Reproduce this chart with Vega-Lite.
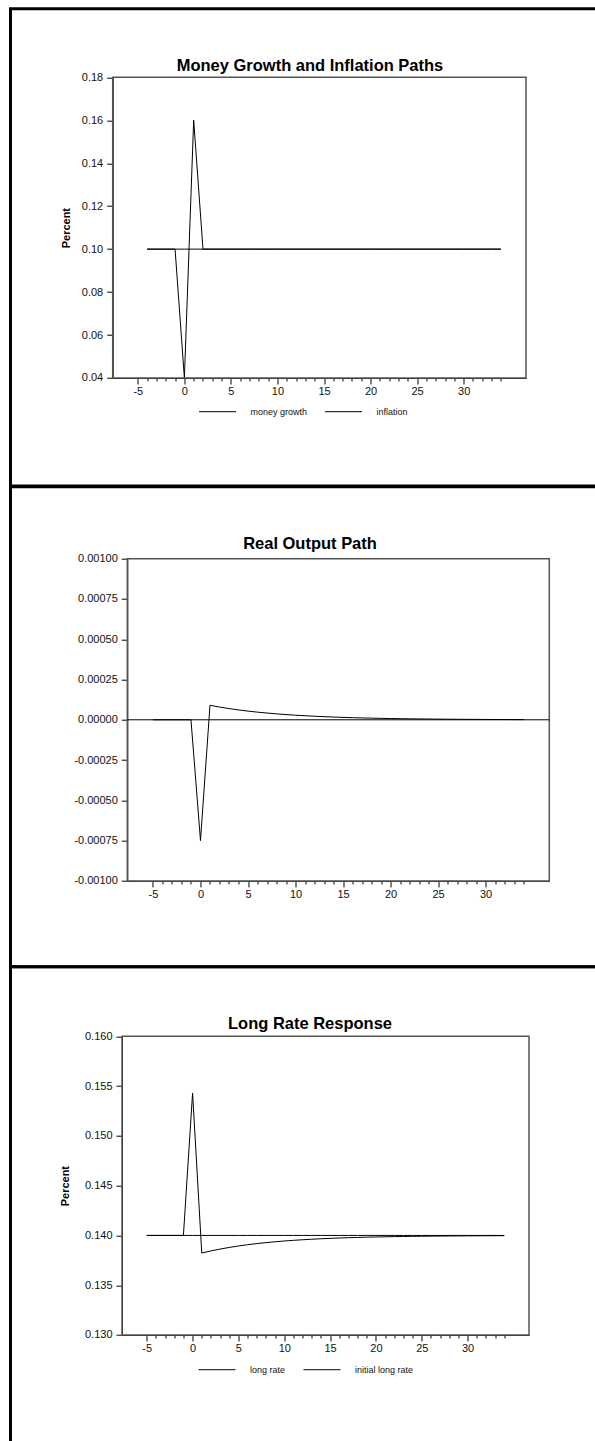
{
  "$schema": "https://vega.github.io/schema/vega-lite/v6.json",
  "background": "white",
  "padding": {"left": 8.5, "top": 6.7, "right": -7.5, "bottom": -7},
  "spacing": 0,
  "bounds": "flush",
  "resolve": {"scale": {"color": "independent"}, "legend": {"color": "independent"}},
  "config": {
    "view": {"stroke": "black", "strokeWidth": 3},
    "font": "Liberation Sans",
    "axis": {"domainColor": "black", "tickColor": "black", "labelColor": "#111", "labelFontSize": 11, "grid": false, "labelFont": "Liberation Sans", "titleFont": "Liberation Sans", "titleColor": "black", "labelOverlap": false, "labelFlush": false, "labelBound": false},
    "title": {"font": "Liberation Sans", "fontSize": 16.5, "fontWeight": "bold", "color": "black", "baseline": "middle"},
    "legend": {"labelFont": "Liberation Sans", "labelFontSize": 9, "labelColor": "#111", "padding": 0}
  },
  "datasets": {
    "p1": [
      {"t":-4,"s":"money growth","v":0.1},{"t":-3,"s":"money growth","v":0.1},{"t":-2,"s":"money growth","v":0.1},{"t":-1,"s":"money growth","v":0.1},{"t":0,"s":"money growth","v":0.1},{"t":1,"s":"money growth","v":0.1},{"t":2,"s":"money growth","v":0.1},{"t":3,"s":"money growth","v":0.1},{"t":4,"s":"money growth","v":0.1},{"t":5,"s":"money growth","v":0.1},{"t":6,"s":"money growth","v":0.1},{"t":7,"s":"money growth","v":0.1},{"t":8,"s":"money growth","v":0.1},{"t":9,"s":"money growth","v":0.1},{"t":10,"s":"money growth","v":0.1},{"t":11,"s":"money growth","v":0.1},{"t":12,"s":"money growth","v":0.1},{"t":13,"s":"money growth","v":0.1},{"t":14,"s":"money growth","v":0.1},{"t":15,"s":"money growth","v":0.1},{"t":16,"s":"money growth","v":0.1},{"t":17,"s":"money growth","v":0.1},{"t":18,"s":"money growth","v":0.1},{"t":19,"s":"money growth","v":0.1},{"t":20,"s":"money growth","v":0.1},{"t":21,"s":"money growth","v":0.1},{"t":22,"s":"money growth","v":0.1},{"t":23,"s":"money growth","v":0.1},{"t":24,"s":"money growth","v":0.1},{"t":25,"s":"money growth","v":0.1},{"t":26,"s":"money growth","v":0.1},{"t":27,"s":"money growth","v":0.1},{"t":28,"s":"money growth","v":0.1},{"t":29,"s":"money growth","v":0.1},{"t":30,"s":"money growth","v":0.1},{"t":31,"s":"money growth","v":0.1},{"t":32,"s":"money growth","v":0.1},{"t":33,"s":"money growth","v":0.1},{"t":34,"s":"money growth","v":0.1},
      {"t":-4,"s":"inflation","v":0.1},{"t":-3,"s":"inflation","v":0.1},{"t":-2,"s":"inflation","v":0.1},{"t":-1,"s":"inflation","v":0.1},{"t":0,"s":"inflation","v":0.04},{"t":1,"s":"inflation","v":0.16},{"t":2,"s":"inflation","v":0.1},{"t":3,"s":"inflation","v":0.1},{"t":4,"s":"inflation","v":0.1},{"t":5,"s":"inflation","v":0.1},{"t":6,"s":"inflation","v":0.1},{"t":7,"s":"inflation","v":0.1},{"t":8,"s":"inflation","v":0.1},{"t":9,"s":"inflation","v":0.1},{"t":10,"s":"inflation","v":0.1},{"t":11,"s":"inflation","v":0.1},{"t":12,"s":"inflation","v":0.1},{"t":13,"s":"inflation","v":0.1},{"t":14,"s":"inflation","v":0.1},{"t":15,"s":"inflation","v":0.1},{"t":16,"s":"inflation","v":0.1},{"t":17,"s":"inflation","v":0.1},{"t":18,"s":"inflation","v":0.1},{"t":19,"s":"inflation","v":0.1},{"t":20,"s":"inflation","v":0.1},{"t":21,"s":"inflation","v":0.1},{"t":22,"s":"inflation","v":0.1},{"t":23,"s":"inflation","v":0.1},{"t":24,"s":"inflation","v":0.1},{"t":25,"s":"inflation","v":0.1},{"t":26,"s":"inflation","v":0.1},{"t":27,"s":"inflation","v":0.1},{"t":28,"s":"inflation","v":0.1},{"t":29,"s":"inflation","v":0.1},{"t":30,"s":"inflation","v":0.1},{"t":31,"s":"inflation","v":0.1},{"t":32,"s":"inflation","v":0.1},{"t":33,"s":"inflation","v":0.1},{"t":34,"s":"inflation","v":0.1}
    ],
    "p2": [
      {"t":-5,"v":0},{"t":-4,"v":0},{"t":-3,"v":0},{"t":-2,"v":0},{"t":-1,"v":0},{"t":0,"v":-0.00075},{"t":1,"v":0.00009},{"t":2,"v":0.0000792},{"t":3,"v":0.0000697},{"t":4,"v":0.0000613},{"t":5,"v":0.000054},{"t":6,"v":0.0000475},{"t":7,"v":0.0000418},{"t":8,"v":0.0000368},{"t":9,"v":0.0000324},{"t":10,"v":0.0000285},{"t":11,"v":0.0000251},{"t":12,"v":0.0000221},{"t":13,"v":0.0000194},{"t":14,"v":0.0000171},{"t":15,"v":0.000015},{"t":16,"v":0.0000132},{"t":17,"v":0.0000116},{"t":18,"v":0.0000102},{"t":19,"v":0.000009},{"t":20,"v":0.0000079},{"t":21,"v":0.000007},{"t":22,"v":0.0000061},{"t":23,"v":0.0000054},{"t":24,"v":0.0000048},{"t":25,"v":0.0000042},{"t":26,"v":0.0000037},{"t":27,"v":0.0000032},{"t":28,"v":0.0000028},{"t":29,"v":0.0000025},{"t":30,"v":0.0000022},{"t":31,"v":0.0000019},{"t":32,"v":0.0000017},{"t":33,"v":0.0000015},{"t":34,"v":0.0000013}
    ],
    "p3": [
      {"t":-5,"s":"long rate","v":0.14},{"t":-4,"s":"long rate","v":0.14},{"t":-3,"s":"long rate","v":0.14},{"t":-2,"s":"long rate","v":0.14},{"t":-1,"s":"long rate","v":0.14},{"t":0,"s":"long rate","v":0.1543},{"t":1,"s":"long rate","v":0.13823},{"t":2,"s":"long rate","v":0.138442},{"t":3,"s":"long rate","v":0.138629},{"t":4,"s":"long rate","v":0.138794},{"t":5,"s":"long rate","v":0.138939},{"t":6,"s":"long rate","v":0.139066},{"t":7,"s":"long rate","v":0.139178},{"t":8,"s":"long rate","v":0.139277},{"t":9,"s":"long rate","v":0.139363},{"t":10,"s":"long rate","v":0.13944},{"t":11,"s":"long rate","v":0.139507},{"t":12,"s":"long rate","v":0.139566},{"t":13,"s":"long rate","v":0.139618},{"t":14,"s":"long rate","v":0.139664},{"t":15,"s":"long rate","v":0.139704},{"t":16,"s":"long rate","v":0.13974},{"t":17,"s":"long rate","v":0.139771},{"t":18,"s":"long rate","v":0.139799},{"t":19,"s":"long rate","v":0.139823},{"t":20,"s":"long rate","v":0.139844},{"t":21,"s":"long rate","v":0.139863},{"t":22,"s":"long rate","v":0.139879},{"t":23,"s":"long rate","v":0.139894},{"t":24,"s":"long rate","v":0.139907},{"t":25,"s":"long rate","v":0.139918},{"t":26,"s":"long rate","v":0.139928},{"t":27,"s":"long rate","v":0.139936},{"t":28,"s":"long rate","v":0.139944},{"t":29,"s":"long rate","v":0.139951},{"t":30,"s":"long rate","v":0.139957},{"t":31,"s":"long rate","v":0.139962},{"t":32,"s":"long rate","v":0.139966},{"t":33,"s":"long rate","v":0.13997},{"t":34,"s":"long rate","v":0.139974},
      {"t":-5,"s":"initial long rate","v":0.14},{"t":-4,"s":"initial long rate","v":0.14},{"t":-3,"s":"initial long rate","v":0.14},{"t":-2,"s":"initial long rate","v":0.14},{"t":-1,"s":"initial long rate","v":0.14},{"t":0,"s":"initial long rate","v":0.14},{"t":1,"s":"initial long rate","v":0.14},{"t":2,"s":"initial long rate","v":0.14},{"t":3,"s":"initial long rate","v":0.14},{"t":4,"s":"initial long rate","v":0.14},{"t":5,"s":"initial long rate","v":0.14},{"t":6,"s":"initial long rate","v":0.14},{"t":7,"s":"initial long rate","v":0.14},{"t":8,"s":"initial long rate","v":0.14},{"t":9,"s":"initial long rate","v":0.14},{"t":10,"s":"initial long rate","v":0.14},{"t":11,"s":"initial long rate","v":0.14},{"t":12,"s":"initial long rate","v":0.14},{"t":13,"s":"initial long rate","v":0.14},{"t":14,"s":"initial long rate","v":0.14},{"t":15,"s":"initial long rate","v":0.14},{"t":16,"s":"initial long rate","v":0.14},{"t":17,"s":"initial long rate","v":0.14},{"t":18,"s":"initial long rate","v":0.14},{"t":19,"s":"initial long rate","v":0.14},{"t":20,"s":"initial long rate","v":0.14},{"t":21,"s":"initial long rate","v":0.14},{"t":22,"s":"initial long rate","v":0.14},{"t":23,"s":"initial long rate","v":0.14},{"t":24,"s":"initial long rate","v":0.14},{"t":25,"s":"initial long rate","v":0.14},{"t":26,"s":"initial long rate","v":0.14},{"t":27,"s":"initial long rate","v":0.14},{"t":28,"s":"initial long rate","v":0.14},{"t":29,"s":"initial long rate","v":0.14},{"t":30,"s":"initial long rate","v":0.14},{"t":31,"s":"initial long rate","v":0.14},{"t":32,"s":"initial long rate","v":0.14},{"t":33,"s":"initial long rate","v":0.14},{"t":34,"s":"initial long rate","v":0.14}
    ]
  },
  "vconcat": [
    {
      "width": 590, "height": 477.3,
      "title": {"text": "Money Growth and Inflation Paths", "offset": -65.5, "dx": 4.5},
      "layer": [
        {
          "data": {"name": "p1"},
          "mark": {"type": "line", "strokeWidth": 1},
          "encoding": {
            "x": {"field": "t", "type": "quantitative",
                  "scale": {"domain": [-7.7, 36.7], "range": [102.2, 515.5], "nice": false, "zero": false},
                  "axis": {"orient": "bottom", "offset": -108, "title": null, "tickCount": 100,
                           "values": [-5,-4,-3,-2,-1,0,1,2,3,4,5,6,7,8,9,10,11,12,13,14,15,16,17,18,19,20,21,22,23,24,25,26,27,28,29,30,31,32,33,34],
                           "labelExpr": "datum.value % 5 === 0 ? '' + datum.value : ''",
                           "tickSize": {"condition": {"test": "datum.value % 5 === 0", "value": 6}, "value": 3},
                           "labelPadding": 2}},
            "y": {"field": "v", "type": "quantitative",
                  "scale": {"domain": [0.04, 0.18], "range": [369.3, 68.6], "nice": false, "zero": false},
                  "axis": {"offset": -102.2, "values": [0.04,0.06,0.08,0.1,0.12,0.14,0.16,0.18], "tickCount": 100,
                           "labelExpr": "format(datum.value, '.2f')", "tickSize": 6, "labelPadding": 4,
                           "title": "Percent", "titleFontSize": 11, "titleFontWeight": "bold", "titlePadding": 10}},
            "color": {"field": "s", "type": "nominal",
                      "scale": {"domain": ["money growth", "inflation"], "range": ["black", "black"]},
                      "legend": {"orient": "none", "legendX": 188, "legendY": 384, "direction": "horizontal", "title": null,
                                 "symbolType": "stroke", "symbolSize": 1369, "symbolStrokeWidth": 1, "labelOffset": 14, "columnPadding": 15}}
          }
        },
        {
          "data": {"values": [{}]},
          "mark": {"type": "rect", "filled": false, "stroke": "#555", "strokeWidth": 1.5},
          "encoding": {
            "x": {"datum": -7.7, "type": "quantitative"},
            "x2": {"datum": 36.7},
            "y": {"datum": 0.04, "type": "quantitative"},
            "y2": {"datum": 0.18}
          }
        }
      ]
    },
    {
      "width": 590, "height": 480,
      "title": {"text": "Real Output Path", "offset": -65.5, "dx": 4.5},
      "layer": [
        {
          "data": {"name": "p2"},
          "mark": {"type": "line", "strokeWidth": 1, "color": "black"},
          "encoding": {
            "x": {"field": "t", "type": "quantitative",
                  "scale": {"domain": [-7.7, 36.7], "range": [116.8, 538.8], "nice": false, "zero": false},
                  "axis": {"orient": "bottom", "offset": -85.8, "title": null, "tickCount": 100,
                           "values": [-5,-4,-3,-2,-1,0,1,2,3,4,5,6,7,8,9,10,11,12,13,14,15,16,17,18,19,20,21,22,23,24,25,26,27,28,29,30,31,32,33,34],
                           "labelExpr": "datum.value % 5 === 0 ? '' + datum.value : ''",
                           "tickSize": {"condition": {"test": "datum.value % 5 === 0", "value": 6}, "value": 3},
                           "labelPadding": 2}},
            "y": {"field": "v", "type": "quantitative",
                  "scale": {"domain": [-0.001, 0.001], "range": [394.2, 72], "nice": false, "zero": false},
                  "axis": {"offset": -116.8, "values": [-0.001,-0.00075,-0.0005,-0.00025,0,0.00025,0.0005,0.00075,0.001], "tickCount": 100,
                           "labelExpr": "(datum.value < 0 ? '-' : '') + format(abs(datum.value), '.5f')", "tickSize": 6, "labelPadding": 4,
                           "title": null}}
          }
        },
        {
          "data": {"values": [{}]},
          "mark": {"type": "rect", "filled": false, "stroke": "#555", "strokeWidth": 1.5},
          "encoding": {
            "x": {"datum": -7.7, "type": "quantitative"},
            "x2": {"datum": 36.7},
            "y": {"datum": -0.001, "type": "quantitative"},
            "y2": {"datum": 0.001}
          }
        },
        {
          "data": {"values": [{}]},
          "mark": {"type": "rule", "stroke": "black", "strokeWidth": 1},
          "encoding": {
            "x": {"datum": -7.7, "type": "quantitative"},
            "x2": {"datum": 36.7},
            "y": {"datum": 0, "type": "quantitative"}
          }
        }
      ]
    },
    {
      "width": 590, "height": 480,
      "title": {"text": "Long Rate Response", "offset": -65.5, "dx": 4.5},
      "layer": [
        {
          "data": {"name": "p3"},
          "mark": {"type": "line", "strokeWidth": 1},
          "encoding": {
            "x": {"field": "t", "type": "quantitative",
                  "scale": {"domain": [-7.7, 36.7], "range": [111.5, 518.5], "nice": false, "zero": false},
                  "axis": {"orient": "bottom", "offset": -111.7, "title": null, "tickCount": 100,
                           "values": [-5,-4,-3,-2,-1,0,1,2,3,4,5,6,7,8,9,10,11,12,13,14,15,16,17,18,19,20,21,22,23,24,25,26,27,28,29,30,31,32,33,34],
                           "labelExpr": "datum.value % 5 === 0 ? '' + datum.value : ''",
                           "tickSize": {"condition": {"test": "datum.value % 5 === 0", "value": 6}, "value": 3},
                           "labelPadding": 2}},
            "y": {"field": "v", "type": "quantitative",
                  "scale": {"domain": [0.13, 0.16], "range": [368.3, 69.6], "nice": false, "zero": false},
                  "axis": {"offset": -111.5, "values": [0.13,0.135,0.14,0.145,0.15,0.155,0.16], "tickCount": 100,
                           "labelExpr": "format(datum.value, '.3f')", "tickSize": 6, "labelPadding": 4,
                           "title": "Percent", "titleFontSize": 11, "titleFontWeight": "bold", "titlePadding": 14}},
            "color": {"field": "s", "type": "nominal",
                      "scale": {"domain": ["long rate", "initial long rate"], "range": ["black", "black"]},
                      "legend": {"orient": "none", "legendX": 187.5, "legendY": 384, "direction": "horizontal", "title": null,
                                 "symbolType": "stroke", "symbolSize": 1369, "symbolStrokeWidth": 1, "labelOffset": 14, "columnPadding": 15}}
          }
        },
        {
          "data": {"values": [{}]},
          "mark": {"type": "rect", "filled": false, "stroke": "#555", "strokeWidth": 1.5},
          "encoding": {
            "x": {"datum": -7.7, "type": "quantitative"},
            "x2": {"datum": 36.7},
            "y": {"datum": 0.13, "type": "quantitative"},
            "y2": {"datum": 0.16}
          }
        }
      ]
    }
  ]
}
